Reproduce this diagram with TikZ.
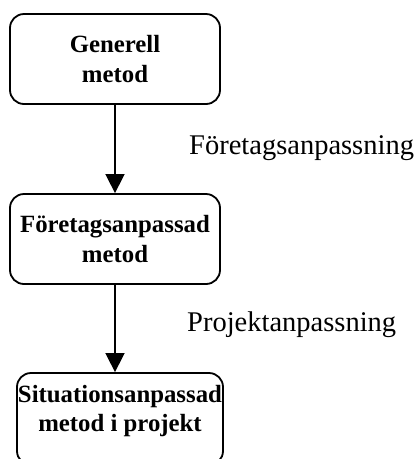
\documentclass[tikz,border=0pt]{standalone}
\usepackage{fontspec}
\setmainfont{Liberation Serif}
\usetikzlibrary{arrows.meta}
\begin{document}
\begin{tikzpicture}[x=1pt,y=-1pt,
  stagebox/.style={draw=black, line width=1.8pt, rounded corners=14pt,
    minimum width=210pt, minimum height=90pt, inner sep=0pt,
    align=center, font=\bfseries\fontsize{24.8}{30}\selectfont},
  boxtext/.style={inner sep=0pt, align=center,
    font=\bfseries\fontsize{24.8}{28.5}\selectfont},
  steplabel/.style={inner sep=0pt, anchor=base west,
    font=\fontsize{28.5}{34}\selectfont},
  flow/.style={line width=1.6pt, -{Triangle[width=19pt,length=19pt]}}]
  \useasboundingbox (0,0) rectangle (416,459);
  \clip (0,0) rectangle (416,459);

  % method stages
  \node[stagebox] (b1) at (115,59) {Generell\\metod};
  \node[stagebox] (b2) at (115,239) {Företagsanpassad\\metod};
  \node[stagebox, minimum width=206pt, minimum height=92pt] (b3) at (120,419) {};
  \node[boxtext] (t3) at (120,411) {Situationsanpassad\\metod i projekt};

  % tailoring steps
  \draw[flow] (b1.south) -- (b2.north);
  \draw[flow] (b2.south) -- (b2.south |- b3.north);

  \node[steplabel] (l1) at (189,154) {Företagsanpassning};
  \node[steplabel] (l2) at (187,331) {Projektanpassning};
\end{tikzpicture}
\end{document}
